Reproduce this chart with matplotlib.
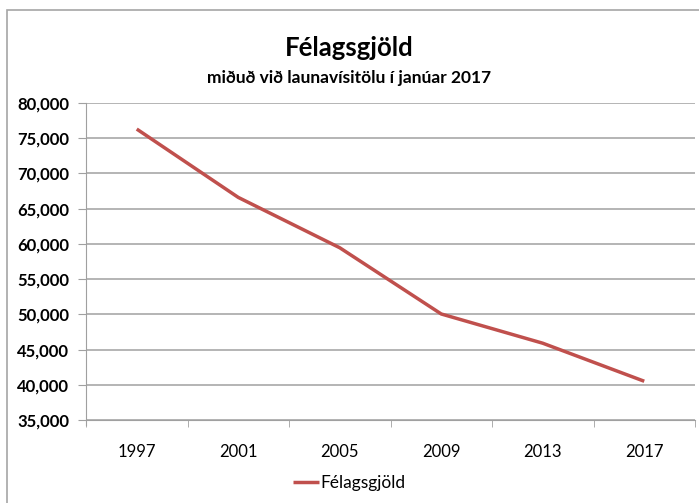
import matplotlib
matplotlib.use("Agg")
import matplotlib.pyplot as plt
from matplotlib.patches import Rectangle
from matplotlib.ticker import FuncFormatter, MultipleLocator

years = ["1997", "2001", "2005", "2009", "2013", "2017"]
values = [76300, 66600, 59450, 50050, 45900, 40500]
series_name = "Félagsgjöld"
title = "Félagsgjöld"
subtitle = "miðuð við launavísitölu í janúar 2017"

plt.rcParams['font.family'] = ['Lato', 'DejaVu Sans']

W, H = 699, 503
fig = plt.figure(figsize=(W / 100, H / 100), dpi=100)
fig.patch.set_facecolor("white")

# outer chart frame (cropped at right/bottom)
fig.patches.append(Rectangle((7 / W, -0.05), 1.0, (H - 10) / H + 0.05,
                             transform=fig.transFigure, fill=False,
                             edgecolor="#a6a6a6", linewidth=1.2))

left, right, top, bottom = 86, 695, 103, 420
ax = fig.add_axes([left / W, (H - bottom) / H, (right - left) / W, (bottom - top) / H])

x = list(range(len(years)))
ax.plot(x, values, color="#C0504D", linewidth=2.5, label=series_name,
        solid_capstyle="butt")

ax.set_xlim(-0.5, len(years) - 0.5)
ax.set_ylim(35000, 80000)
ax.yaxis.set_major_locator(MultipleLocator(5000))
ax.yaxis.set_major_formatter(FuncFormatter(lambda v, p: f"{int(v):,}"))
ax.set_xticks(x)
ax.set_xticklabels(years)
ax.set_xticks([i - 0.5 for i in range(len(years) + 1)], minor=True)
ax.tick_params(axis="x", which="major", length=0, pad=17, labelsize=12)
ax.tick_params(axis="x", which="minor", length=5, color="#a0a0a0", direction="out")
ax.tick_params(axis="y", length=6, color="#a0a0a0", labelsize=12, pad=6)
for lab in ax.get_yticklabels():
    lab.set_fontweight("bold")

ax.grid(axis="y", color="#a0a0a0", linewidth=1.1)
ax.set_axisbelow(True)
for s in ["top", "right"]:
    ax.spines[s].set_visible(False)
ax.spines["left"].set_color("#a0a0a0")
ax.spines["bottom"].set_color("#a0a0a0")
ax.spines["left"].set_bounds(35000 - 0.015 * 45000, 80000)
ax.spines["left"].set_clip_on(False)

fig.text(0.5, (H - 48) / H, title, ha="center", va="center",
         fontsize=18.5, fontweight="bold")
fig.text(0.5, (H - 78) / H, subtitle, ha="center", va="center",
         fontsize=12.5, fontweight="bold")

leg = fig.legend(loc="center", bbox_to_anchor=(0.5, (H - 483) / H),
                 frameon=False, fontsize=12.5, handlelength=1.5,
                 handletextpad=0.1)

fig.savefig("out.png", dpi=100, facecolor="white")
